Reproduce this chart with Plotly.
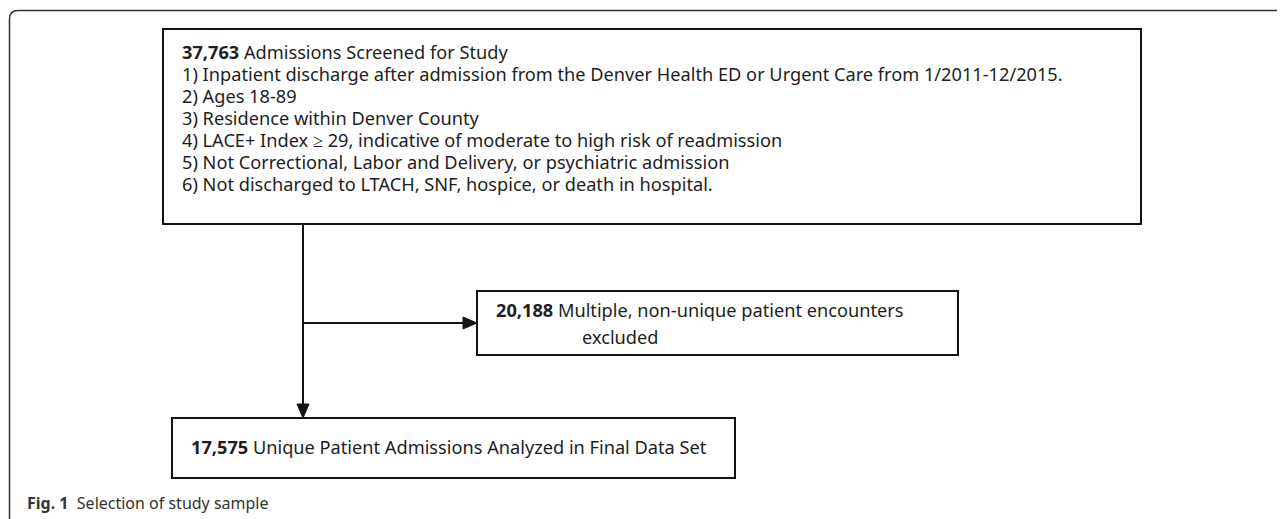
import plotly.graph_objects as go

# ---- data ----
screened_n = "37,763"
screened_title = "Admissions Screened for Study"
criteria = [
    "1) Inpatient discharge after admission from the Denver Health ED or Urgent Care from 1/2011-12/2015.",
    "2) Ages 18-89",
    "3) Residence within Denver County",
    "4) LACE+ Index \u2265 29, indicative of moderate to high risk of readmission",
    "5) Not Correctional, Labor and Delivery, or psychiatric admission",
    "6) Not discharged to LTACH, SNF, hospice, or death in hospital.",
]
excluded_n = "20,188"
excluded_lines = ["Multiple, non-unique patient encounters", "excluded"]
final_n = "17,575"
final_title = "Unique Patient Admissions Analyzed in Final Data Set"
caption_bold = "Fig. 1"
caption_text = "Selection of study sample"

W, H = 1285, 519
OFF = 8  # page body margin
FONT = "Noto Sans"
TXT = "#1e1e1e"
LINE = "#141414"

fig = go.Figure()
fig.add_trace(go.Scatter(x=[OFF, W + OFF], y=[OFF, H + OFF], mode="markers", marker=dict(opacity=0),
                         hoverinfo="skip", showlegend=False))

shapes = []
# outer frame with rounded top-left corner
shapes.append(dict(type="path", path=f"M 9.5,{H+OFF} L 9.5,19 Q 9.5,10.5 18,10.5 L {W+OFF},10.5",
                   line=dict(color="#333333", width=1.5)))
# boxes
main_box = (163, 29, 1141, 224)
side_box = (477, 291, 958, 355)
final_box = (172, 418, 735, 478)
for (x0, y0, x1, y1) in (main_box, side_box, final_box):
    shapes.append(dict(type="rect", x0=x0, y0=y0, x1=x1, y1=y1, line=dict(color=LINE, width=2), fillcolor="white"))

# connector lines
vx = 303
branch_y = 323
shapes.append(dict(type="line", x0=vx, y0=main_box[3], x1=vx, y1=final_box[1] - 12, line=dict(color=LINE, width=2)))
shapes.append(dict(type="line", x0=vx, y0=branch_y, x1=side_box[0] - 13, y1=branch_y, line=dict(color=LINE, width=2)))
# arrowheads
shapes.append(dict(type="path", path=f"M {vx-6},{final_box[1]-14} L {vx+6},{final_box[1]-14} L {vx},{final_box[1]} Z",
                   fillcolor=LINE, line=dict(color=LINE, width=1)))
shapes.append(dict(type="path", path=f"M {side_box[0]-14},{branch_y-6} L {side_box[0]-14},{branch_y+6} L {side_box[0]},{branch_y} Z",
                   fillcolor=LINE, line=dict(color=LINE, width=1)))

ann = []
def txt(x, y, s, size=18.2, color=TXT):
    ann.append(dict(x=x, y=y, xref="x", yref="y", text=s, showarrow=False, xanchor="left", yanchor="middle",
                    font=dict(family=FONT, size=size, color=color)))

txt(180, 52, f"<b>{screened_n}</b> {screened_title}")
for i, c in enumerate(criteria):
    txt(180, 74 + 22 * i, c)
txt(494, 310, f"<b>{excluded_n}</b> {excluded_lines[0]}")
txt(580, 337, excluded_lines[1])
txt(189, 447, f"<b>{final_n}</b> {final_title}")
txt(25, 503, f"<b>{caption_bold}</b>  {caption_text}", size=16, color="#333333")

fig.update_layout(
    width=W, height=H, margin=dict(l=0, r=0, t=0, b=0),
    paper_bgcolor="white", plot_bgcolor="white",
    xaxis=dict(range=[OFF, W + OFF], visible=False, fixedrange=True),
    yaxis=dict(range=[H + OFF, OFF], visible=False, fixedrange=True),
    shapes=shapes, annotations=ann, showlegend=False,
)
fig.write_html("out.html")
